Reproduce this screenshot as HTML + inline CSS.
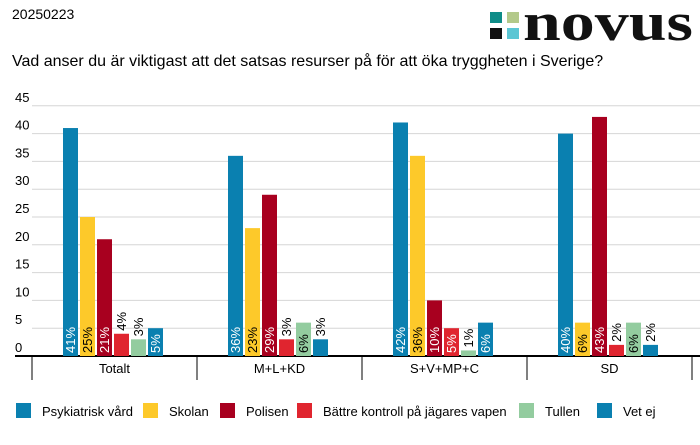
<!DOCTYPE html>
<html><head><meta charset="utf-8"><style>
body{margin:0;background:#fff;width:700px;height:445px;overflow:hidden;font-family:"Liberation Sans",sans-serif}
svg{display:block}
</style></head><body>
<svg id="c" width="700" height="445">
<text x="12" y="19" font-size="14" fill="#000">20250223</text>
<g>
<rect x="490" y="12" width="12" height="11" fill="#0e8c88"/>
<rect x="507" y="12" width="12" height="11" fill="#b3c98a"/>
<rect x="490" y="28" width="12" height="11" fill="#111"/>
<rect x="507" y="28" width="12" height="11" fill="#5bc6d4"/>
<text x="523" y="40" font-family="Liberation Serif,serif" font-size="54" font-weight="bold" fill="#111" textLength="170" lengthAdjust="spacingAndGlyphs">novus</text>
</g>
<text x="12" y="66" font-size="16" fill="#000">Vad anser du är viktigast att det satsas resurser på för att öka tryggheten i Sverige?</text>
<g id="grid"></g><g id="bars"></g><g id="legend"></g>
</svg>
<script>
const categories=["Totalt","M+L+KD","S+V+MP+C","SD"];
const seriesNames=["Psykiatrisk vård","Skolan","Polisen","Bättre kontroll på jägares vapen","Tullen","Vet ej"];
const psykiatrisk=[41,36,42,40];
const skolan=[25,23,36,6];
const polisen=[21,29,10,43];
const kontroll=[4,3,5,2];
const tullen=[3,6,1,6];
const vetej=[5,3,6,2];
const yTicks=[0,5,10,15,20,25,30,35,40,45];
const series=[psykiatrisk,skolan,polisen,kontroll,tullen,vetej];
const colors=["#0a80b0","#fdc92a","#a8001f","#e0252f","#93cc9f","#0a80b0"];
const textCol=["#fff","#000","#fff","#fff","#000","#fff"];
const NS="http://www.w3.org/2000/svg";
const y0=356,pxPer=5.56,gx0=32,gw=165;
const y=v=>y0-v*pxPer;
function mk(t,a,p){const e=document.createElementNS(NS,t);for(const k in a)e.setAttribute(k,a[k]);p.appendChild(e);return e;}
const grid=document.getElementById('grid');
yTicks.forEach(t=>{
 if(t>0){const l=mk('line',{x1:32,x2:700,y1:y(t),y2:y(t),stroke:'#d6d6d6','stroke-width':1},grid);
 
 }
 const tx=mk('text',{x:15,y:y(t)-4,'font-size':13,fill:'#000'},grid);tx.textContent=t;
 
 
});
const ax=mk('line',{x1:15,x2:700,y1:y0,y2:y0,stroke:'#000','stroke-width':2},grid);


for(let i=0;i<=categories.length;i++){const d=mk('line',{x1:gx0+i*gw,x2:gx0+i*gw,y1:y0,y2:380,stroke:'#000','stroke-width':1},grid);
 
 }
categories.forEach((c,i)=>{const t=mk('text',{x:gx0+i*gw+gw/2,y:373,'font-size':13,'text-anchor':'middle'},grid);t.textContent=c;
 
 });
const bars=document.getElementById('bars');
categories.forEach((c,i)=>{series.forEach((s,j)=>{
 const v=s[i],x=gx0+i*gw+31+j*17,h=v*pxPer;
 const r=mk('rect',{x:x,y:y(v),width:15,height:h,fill:colors[j]},bars);
 
 
 const lab=v+'%',need=lab.length*10+5;
 const inside=h>=need;
 const cx=x+12,cy=inside?y0-3:y(v)-3;
 const t=mk('text',{x:cx,y:cy,'font-size':13,fill:inside?textCol[j]:'#000',transform:`rotate(-90 ${cx} ${cy})`},bars);
 t.textContent=lab;
 
 
});});
const lg=document.getElementById('legend');
const lx=[16,143,220,297,519,597];
seriesNames.forEach((n,j)=>{
 const g=mk('g',{},lg);
 
 
 mk('rect',{x:lx[j],y:403,width:15,height:15,fill:colors[j]},g);
 const t=mk('text',{x:lx[j]+26,y:416,'font-size':13},g);t.textContent=n;
});
</script>
</body></html>
